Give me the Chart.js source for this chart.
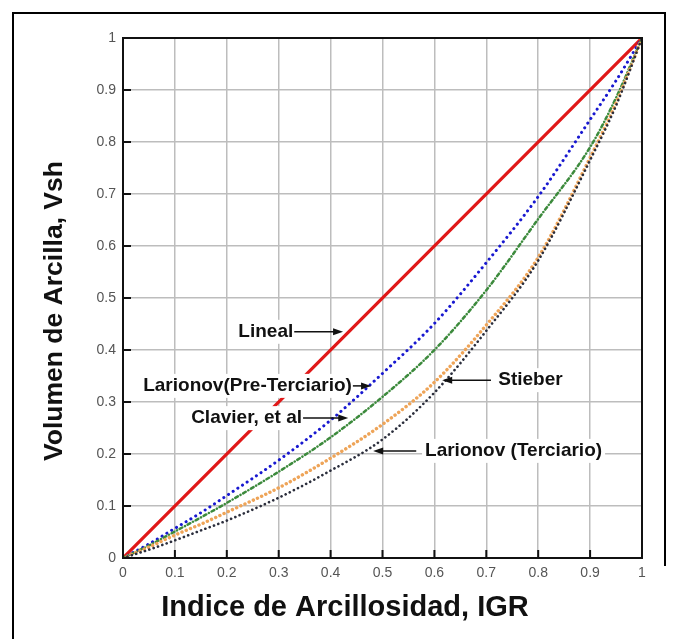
<!DOCTYPE html>
<html>
<head>
<meta charset="utf-8">
<script src="https://cdn.jsdelivr.net/npm/chart.js@4.4.1/dist/chart.umd.min.js"></script>
<style>
  html, body { margin: 0; padding: 0; background: #fff; }
  #wrap { position: relative; width: 678px; height: 639px; }
</style>
</head>
<body>
<div id="wrap"><canvas id="vsh" width="678" height="639"></canvas></div>
<script>
// IGR sample points shared by the curved models
const igr = [0, 0.05, 0.1, 0.15, 0.2, 0.3, 0.4, 0.5, 0.6, 0.7, 0.8, 0.9, 0.95, 1];

const linealIgr = [0, 1];
const linealVsh = [0, 1];
const larionovPre = [0, 0.027, 0.057, 0.087, 0.12, 0.188, 0.265, 0.355, 0.451, 0.568, 0.695, 0.843, 0.918, 1];
const clavier     = [0, 0.024, 0.051, 0.078, 0.106, 0.166, 0.232, 0.31, 0.4, 0.515, 0.652, 0.79, 0.885, 1];
const stieber     = [0, 0.021, 0.044, 0.065, 0.088, 0.135, 0.192, 0.257, 0.338, 0.448, 0.578, 0.77, 0.875, 1];
const larionovTer = [0, 0.016, 0.034, 0.053, 0.072, 0.116, 0.168, 0.228, 0.318, 0.437, 0.572, 0.765, 0.87, 1];

const tickLabels = ["0", "0.1", "0.2", "0.3", "0.4", "0.5", "0.6", "0.7", "0.8", "0.9", "1"];

const xTitle = "Indice de Arcillosidad, IGR";
const yTitle = "Volumen de Arcilla, Vsh";

// callouts: label, where the text sits (data units) and where its arrow points
const callouts = [
  { text: "Lineal", side: "right", x: 0.328, y: 0.435, tip: 0.424 },
  { text: "Larionov(Pre-Terciario)", side: "right", x: 0.441, y: 0.331, tip: 0.478 },
  { text: "Clavier, et al", side: "right", x: 0.345, y: 0.269, tip: 0.434 },
  { text: "Stieber", side: "left", x: 0.723, y: 0.342, tail: 0.709, tip: 0.615 },
  { text: "Larionov (Terciario)", side: "left", x: 0.582, y: 0.206, tail: 0.565, tip: 0.482 }
];

const pts = (xs, ys) => xs.map((x, i) => ({ x, y: ys[i] }));
const FONT = '"Liberation Sans", Arial, Helvetica, sans-serif';

function arrow(ctx, x1, x2, y) {
  const dir = Math.sign(x2 - x1);
  ctx.beginPath();
  ctx.moveTo(x1, y);
  ctx.lineTo(x2 - dir * 6, y);
  ctx.stroke();
  ctx.beginPath();
  ctx.moveTo(x2, y);
  ctx.lineTo(x2 - dir * 10, y - 3.5);
  ctx.lineTo(x2 - dir * 10, y + 3.5);
  ctx.closePath();
  ctx.fill();
}

const decor = {
  id: 'decor',
  beforeDraw(chart) {
    const { ctx } = chart;
    ctx.save();
    ctx.fillStyle = '#fff';
    ctx.fillRect(0, 0, chart.width, chart.height);
    ctx.strokeStyle = '#000';
    ctx.lineWidth = 2;
    ctx.beginPath();
    ctx.moveTo(13, chart.height);
    ctx.lineTo(13, 13);
    ctx.lineTo(665, 13);
    ctx.lineTo(665, 566);
    ctx.stroke();
    ctx.restore();
  },
  afterDatasetsDraw(chart) {
    const { ctx, chartArea: a, scales: { x, y } } = chart;
    ctx.save();

    // plot frame and inward tick marks
    ctx.strokeStyle = '#111';
    ctx.lineWidth = 2;
    ctx.strokeRect(a.left, a.top, a.right - a.left, a.bottom - a.top);
    tickLabels.forEach((_, i) => {
      const v = i / 10;
      const px = x.getPixelForValue(v), py = y.getPixelForValue(v);
      ctx.beginPath();
      ctx.moveTo(px, a.bottom); ctx.lineTo(px, a.bottom - 8);
      ctx.moveTo(a.left, py); ctx.lineTo(a.left + 8, py);
      ctx.stroke();
    });

    // callouts
    ctx.font = 'bold 19px ' + FONT;
    ctx.textBaseline = 'middle';
    const boxes = callouts.map(c => {
      const w = ctx.measureText(c.text).width;
      const px = x.getPixelForValue(c.x);
      const left = c.side === 'right' ? px - w : px;
      return { c, w, left, py: y.getPixelForValue(c.y) };
    });
    ctx.fillStyle = '#fff';
    boxes.forEach(b => ctx.fillRect(b.left - 3, b.py - 12, b.w + 6, 24));
    ctx.fillStyle = '#111';
    ctx.strokeStyle = '#111';
    ctx.lineWidth = 1.5;
    boxes.forEach(({ c, left, w, py }) => {
      ctx.textAlign = 'left';
      ctx.fillText(c.text, left, py);
      const from = c.side === 'right' ? left + w + 1 : x.getPixelForValue(c.tail);
      arrow(ctx, from, x.getPixelForValue(c.tip), py);
    });
    ctx.restore();
  },
  afterDraw(chart) {
    const { ctx } = chart;
    ctx.save();
    ctx.fillStyle = '#111';
    ctx.textAlign = 'center';
    ctx.textBaseline = 'middle';
    ctx.font = 'bold 29px ' + FONT;
    ctx.fillText(xTitle, 345, 608);
    ctx.translate(55, 311);
    ctx.rotate(-Math.PI / 2);
    ctx.font = 'bold 26.5px ' + FONT;
    ctx.fillText(yTitle, 0, 0);
    ctx.restore();
  }
};

const curve = (data, color, dash, width) => ({
  data,
  showLine: true,
  borderColor: color,
  borderWidth: width,
  borderDash: dash,
  borderCapStyle: 'round',
  pointRadius: 0,
  fill: false,
  cubicInterpolationMode: 'monotone'
});

const axis = (fit) => ({
  type: 'linear',
  min: 0,
  max: 1,
  afterFit: fit,
  border: { display: false },
  grid: { color: '#bdbdbd', lineWidth: 1.5, drawTicks: false },
  ticks: {
    stepSize: 0.1,
    padding: 7,
    color: '#555',
    font: { family: FONT, size: 14 },
    callback: v => tickLabels[Math.round(v * 10)]
  }
});

new Chart(document.getElementById('vsh'), {
  type: 'scatter',
  data: {
    datasets: [
      curve(pts(igr, larionovTer), '#2b2e3c', [0.1, 4.5], 2.6),
      curve(pts(igr, stieber), '#eea458', [0.1, 4.5], 3.4),
      curve(pts(igr, clavier), '#3c8a3c', [3, 3, 0.1, 3], 2.5),
      curve(pts(igr, larionovPre), '#1818d0', [0.1, 5.5], 3),
      curve(pts(linealIgr, linealVsh), '#e01818', [], 3.2)
    ]
  },
  options: {
    responsive: false,
    animation: false,
    layout: { padding: { top: 38, right: 36, left: 0, bottom: 0 } },
    plugins: { legend: { display: false }, tooltip: { enabled: false } },
    scales: {
      x: axis(s => { s.height = 81; }),
      y: axis(s => { s.width = 123; })
    }
  },
  plugins: [decor]
});
</script>
</body>
</html>
